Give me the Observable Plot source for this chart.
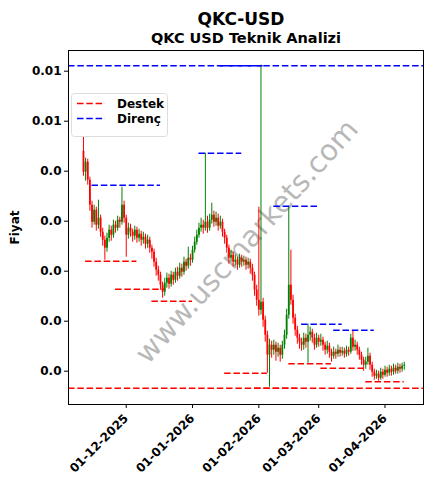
<!DOCTYPE html>
<html><head><meta charset="utf-8">
<script src="https://cdn.jsdelivr.net/npm/d3@7"></script>
<script src="https://cdn.jsdelivr.net/npm/@observablehq/plot@0.6"></script>
<style>
body{margin:0;background:#fff;font-family:"DejaVu Sans",sans-serif}
#wrap{position:relative;width:433px;height:489px;overflow:hidden}
#legend{position:absolute;left:71px;top:93px}
</style></head><body><div id="wrap"></div>
<script>
const title = "QKC-USD";
const subtitle = "QKC USD Teknik Analizi";
const watermark = "www.uscmarkets.com";
const startDate = "2025-11-11";
const firstOpen = 0.00470;
const closes = [
0.00449,0.00459,0.00441,0.00416,0.00399,0.00411,0.00396,0.00403,0.00389,0.00381,
0.00373,0.00383,0.00391,0.00386,0.00396,0.00393,0.00401,0.00399,0.00416,0.00403,
0.00386,0.00393,0.00389,0.00385,0.00391,0.00383,0.00387,0.00381,0.00384,0.00377,
0.00381,0.00373,0.00369,0.00359,0.00351,0.00346,0.00336,0.00329,0.00338,0.00343,
0.00337,0.00346,0.00341,0.00349,0.00345,0.00353,0.00349,0.00359,0.00355,0.00363,
0.00361,0.00371,0.00379,0.00386,0.00393,0.00396,0.00393,0.00399,0.00393,0.00401,
0.00406,0.00399,0.00403,0.00395,0.00399,0.00389,0.00383,0.00373,0.00363,0.00366,
0.00359,0.00361,0.00356,0.00363,0.00359,0.00361,0.00356,0.00359,0.00353,0.00346,
0.00331,0.00321,0.00311,0.00319,0.00301,0.00286,0.00266,0.00276,0.00271,0.00276,
0.00269,0.00273,0.00266,0.00276,0.00286,0.00306,0.00336,0.00321,0.00303,0.00291,
0.00283,0.00279,0.00276,0.00283,0.00279,0.00286,0.00289,0.00283,0.00276,0.00283,
0.00279,0.00281,0.00276,0.00271,0.00275,0.00269,0.00265,0.00269,0.00267,0.00271,
0.00268,0.00270,0.00267,0.00271,0.00269,0.00283,0.00274,0.00276,0.00271,0.00266,
0.00261,0.00256,0.00259,0.00265,0.00256,0.00249,0.00245,0.00247,0.00243,0.00249,
0.00246,0.00251,0.00248,0.00252,0.00249,0.00253,0.00250,0.00254,0.00252,0.00255,0.00256];
const highs = [
0.00484,0.00463,0.00462,0.00444,0.00420,0.00416,0.00414,0.00421,0.00406,0.00393,
0.00385,0.00388,0.00396,0.00395,0.00401,0.00400,0.00405,0.00404,0.00434,0.00420,
0.00406,0.00398,0.00397,0.00392,0.00395,0.00394,0.00392,0.00390,0.00389,0.00387,
0.00386,0.00384,0.00376,0.00372,0.00363,0.00355,0.00349,0.00339,0.00343,0.00348,
0.00347,0.00350,0.00349,0.00353,0.00354,0.00358,0.00357,0.00364,0.00362,0.00374,
0.00367,0.00375,0.00384,0.00391,0.00398,0.00403,0.00401,0.00468,0.00405,0.00407,
0.00418,0.00410,0.00409,0.00407,0.00405,0.00402,0.00392,0.00386,0.00376,0.00371,
0.00369,0.00366,0.00364,0.00367,0.00366,0.00365,0.00364,0.00363,0.00362,0.00357,
0.00349,0.00336,0.00414,0.00556,0.00323,0.00305,0.00290,0.00282,0.00280,0.00281,
0.00279,0.00278,0.00276,0.00280,0.00291,0.00312,0.00415,0.00371,0.00326,0.00307,
0.00295,0.00287,0.00283,0.00288,0.00287,0.00297,0.00294,0.00292,0.00287,0.00288,
0.00286,0.00287,0.00284,0.00279,0.00280,0.00278,0.00272,0.00274,0.00272,0.00276,
0.00274,0.00274,0.00273,0.00275,0.00274,0.00287,0.00291,0.00281,0.00279,0.00274,
0.00269,0.00264,0.00264,0.00273,0.00268,0.00259,0.00252,0.00251,0.00250,0.00253,
0.00252,0.00255,0.00254,0.00256,0.00255,0.00257,0.00256,0.00258,0.00257,0.00258,0.00259];
const lows = [
0.00445,0.00440,0.00436,0.00410,0.00393,0.00396,0.00390,0.00392,0.00384,0.00375,
0.00361,0.00369,0.00379,0.00380,0.00383,0.00388,0.00390,0.00393,0.00396,0.00398,
0.00364,0.00382,0.00384,0.00379,0.00381,0.00378,0.00379,0.00375,0.00377,0.00372,
0.00373,0.00368,0.00362,0.00354,0.00345,0.00340,0.00331,0.00323,0.00325,0.00333,
0.00332,0.00334,0.00336,0.00338,0.00340,0.00342,0.00344,0.00346,0.00350,0.00352,
0.00355,0.00358,0.00368,0.00376,0.00383,0.00389,0.00387,0.00390,0.00388,0.00390,
0.00397,0.00394,0.00395,0.00390,0.00392,0.00384,0.00377,0.00368,0.00357,0.00359,
0.00354,0.00355,0.00351,0.00353,0.00354,0.00355,0.00351,0.00352,0.00347,0.00340,
0.00325,0.00315,0.00305,0.00306,0.00294,0.00279,0.00248,0.00234,0.00263,0.00266,
0.00260,0.00264,0.00259,0.00262,0.00272,0.00282,0.00302,0.00316,0.00297,0.00285,
0.00277,0.00272,0.00270,0.00271,0.00273,0.00258,0.00280,0.00278,0.00271,0.00273,
0.00274,0.00275,0.00270,0.00266,0.00267,0.00263,0.00259,0.00262,0.00262,0.00264,
0.00264,0.00265,0.00263,0.00264,0.00265,0.00267,0.00270,0.00270,0.00266,0.00261,
0.00256,0.00250,0.00252,0.00256,0.00251,0.00244,0.00241,0.00242,0.00240,0.00241,
0.00242,0.00244,0.00244,0.00245,0.00245,0.00246,0.00247,0.00247,0.00248,0.00249,0.00251];

// Support (Destek) and resistance (Direnç) levels
const supportFull = 0.00233;
const resistanceFull = 0.005554;
const supStarts = ["2025-11-12","2025-11-26","2025-12-13","2026-01-16","2026-01-30","2026-02-15","2026-03-02","2026-03-23"];
const supEnds   = ["2025-12-06","2025-12-19","2026-01-01","2026-02-05","2026-02-19","2026-03-07","2026-03-22","2026-04-10"];
const supValues = [0.0036,0.00332,0.0032,0.00248,0.00233,0.002574,0.00253,0.002394];
const resStarts = ["2025-11-15","2026-01-04","2026-01-14","2026-02-08","2026-02-21","2026-03-08"];
const resEnds   = ["2025-12-17","2026-01-24","2026-02-03","2026-03-01","2026-03-12","2026-03-27"];
const resValues = [0.00436,0.00468,0.005554,0.00415,0.00297,0.00291];

const yTicks = [0.0025,0.0030,0.0035,0.0040,0.0045,0.0050,0.0055];
const xTickDates = ["2025-12-01","2026-01-01","2026-02-01","2026-03-01","2026-04-01"];
const xDomain = ["2025-11-04","2026-04-19"];
const yDomain = [0.002167,0.005707];
const legendLabels = ["Destek","Direnç"];

const t0 = new Date(startDate + "T00:00:00Z").getTime();
const candles = closes.map((c,i)=>({
  date:new Date(t0 + i*864e5),
  open: i===0 ? firstOpen : closes[i-1],
  close:c, high:highs[i], low:lows[i]
}));
const up = candles.filter(d=>d.close>=d.open);
const down = candles.filter(d=>d.close<d.open);
const toSeg = (s,e,v)=>s.map((d,i)=>({start:new Date(d+"T00:00:00Z"),end:new Date(e[i]+"T00:00:00Z"),value:v[i]}));
const supSegs = toSeg(supStarts,supEnds,supValues);
const resSegs = toSeg(resStarts,resEnds,resValues);
const fmtY = v => { const r = Math.round(v*100)/100; return r===0 ? "0.0" : String(r); };
const dash = "6.5,2.8";

const chart = Plot.plot({
  width:433, height:489,
  marginLeft:68, marginRight:10, marginTop:50, marginBottom:85,
  style:{fontFamily:"DejaVu Sans", fontSize:"12px", fontWeight:"bold", color:"black", background:"white"},
  x:{type:"utc", domain:xDomain.map(d=>new Date(d+"T00:00:00Z"))},
  y:{domain:yDomain},
  marks:[
    Plot.text([watermark],{text:d=>d, frameAnchor:"middle", dx:1, dy:14, rotate:-48, fontSize:29, fontWeight:"normal", fill:"#888", fillOpacity:0.6}),
    Plot.ruleX(up,{x:"date", y1:"low", y2:"high", stroke:"green", strokeWidth:1}),
    Plot.ruleX(down,{x:"date", y1:"low", y2:"high", stroke:"red", strokeWidth:1}),
    Plot.ruleX(up,{x:"date", y1:"open", y2:"close", stroke:"green", strokeWidth:1.8}),
    Plot.ruleX(down,{x:"date", y1:"open", y2:"close", stroke:"red", strokeWidth:1.8}),
    Plot.ruleY([supportFull],{y:d=>d, stroke:"red", strokeWidth:1.6, strokeDasharray:dash}),
    Plot.ruleY([resistanceFull],{y:d=>d, stroke:"blue", strokeWidth:1.6, strokeDasharray:dash}),
    Plot.ruleY(supSegs,{x1:"start", x2:"end", y:"value", stroke:"red", strokeWidth:1.6, strokeDasharray:dash}),
    Plot.ruleY(resSegs,{x1:"start", x2:"end", y:"value", stroke:"blue", strokeWidth:1.6, strokeDasharray:dash}),
    Plot.frame({stroke:"black", strokeWidth:1}),
    Plot.axisY({ticks:yTicks, tickFormat:fmtY, tickSize:4, tickPadding:3, label:"Fiyat", labelAnchor:"center", labelArrow:"none", labelOffset:58}),
    Plot.axisX({ticks:xTickDates.map(d=>new Date(d+"T00:00:00Z")), tickFormat:d3.utcFormat("%d-%m-%Y"), tickSize:4, tickRotate:-45, label:null}),
    Plot.text([title],{text:d=>d, frameAnchor:"top", dx:-5, dy:-26, lineAnchor:"bottom", fontSize:17, fontWeight:"bold"}),
    Plot.text([subtitle],{text:d=>d, frameAnchor:"top", dx:0, dy:-8, lineAnchor:"bottom", fontSize:14.5, fontWeight:"bold"})
  ]
});
const wrap = document.getElementById("wrap");
wrap.appendChild(chart);

// legend
const lg = document.createElement("div");
lg.id = "legend";
lg.innerHTML = `<svg width="97" height="44" style="font-family:'DejaVu Sans';font-weight:bold;font-size:12px">
<rect x="0.5" y="0.5" width="96" height="43" rx="3" fill="rgba(255,255,255,0.8)" stroke="#ddd"/>
<line x1="6" x2="34" y1="10.5" y2="10.5" stroke="red" stroke-width="1.6" stroke-dasharray="${dash}"/>
<text x="46" y="15">${legendLabels[0]}</text>
<line x1="6" x2="34" y1="25.5" y2="25.5" stroke="blue" stroke-width="1.6" stroke-dasharray="${dash}"/>
<text x="46" y="30">${legendLabels[1]}</text>
</svg>`;
wrap.appendChild(lg);
</script></body></html>
